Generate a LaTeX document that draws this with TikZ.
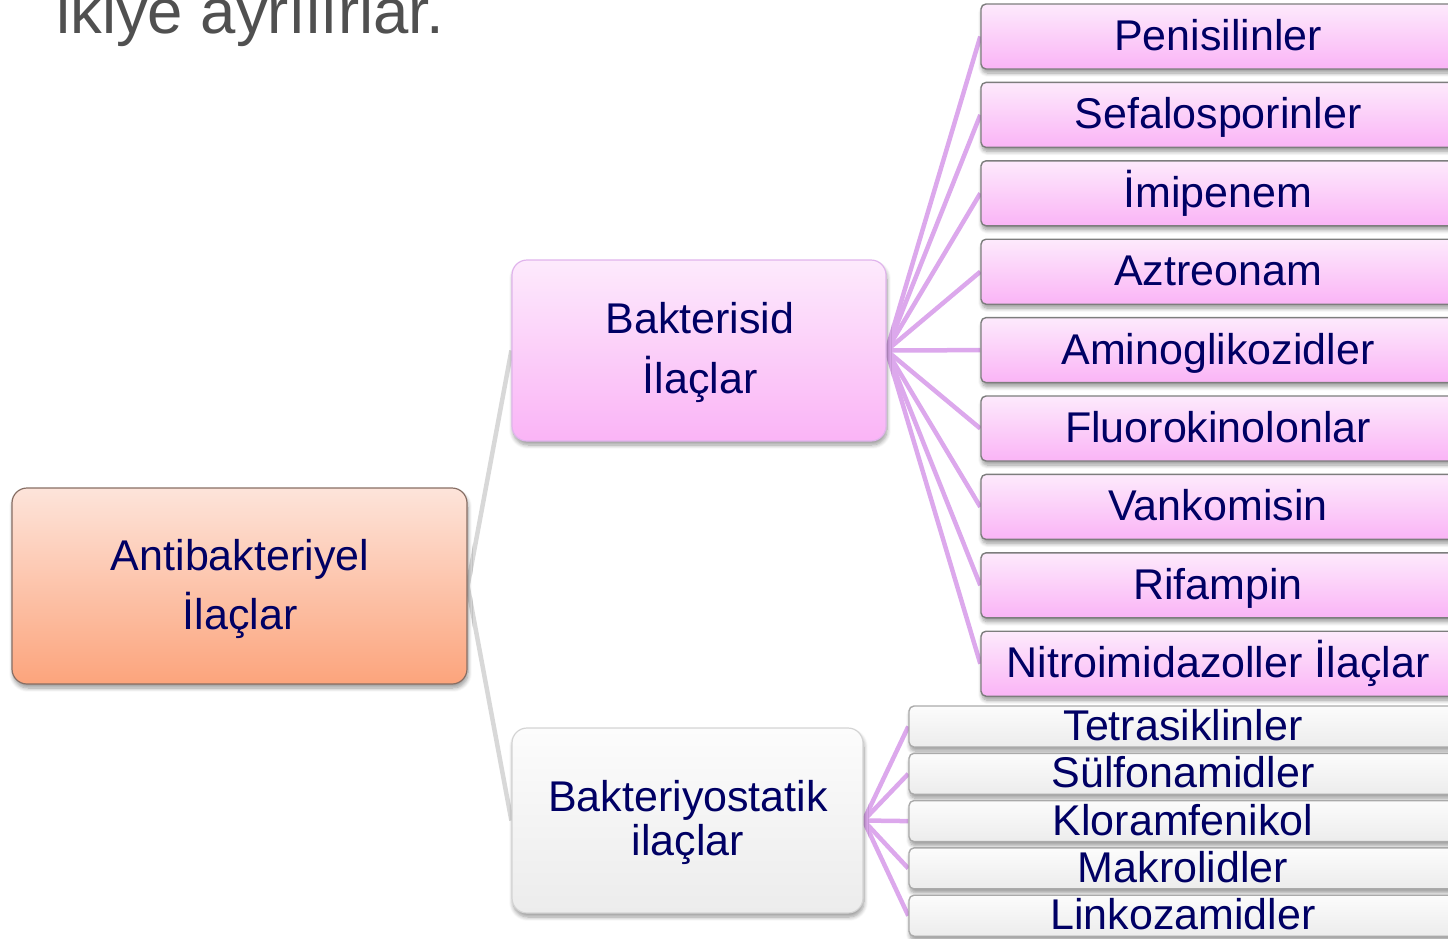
\documentclass[tikz,border=0pt]{standalone}
\usepackage{fontspec}
\setmainfont{Liberation Sans}
\usetikzlibrary{backgrounds,shadows.blur}

\definecolor{ink}{RGB}{0,0,100}
\definecolor{titlegray}{RGB}{80,80,80}
\definecolor{rootTop}{RGB}{253,228,218}
\definecolor{rootBot}{RGB}{252,164,124}
\definecolor{rootEdge}{RGB}{135,110,100}
\definecolor{pinkTop}{RGB}{253,234,252}
\definecolor{pinkBot}{RGB}{250,180,246}
\definecolor{pinkEdge}{RGB}{224,180,236}
\definecolor{leafEdge}{RGB}{125,125,125}
\definecolor{greyTop}{RGB}{252,252,252}
\definecolor{greyBot}{RGB}{236,236,236}
\definecolor{greyEdge}{RGB}{212,212,212}
\definecolor{greyLeafEdge}{RGB}{170,170,170}
\definecolor{twig}{RGB}{220,168,236}
\definecolor{trunk}{RGB}{216,216,216}

\newcommand{\boxfont}{\fontsize{43}{50}\selectfont}
\newcommand{\titlefont}{\fontsize{63.5}{70}\selectfont}

\tikzset{
  softshadow/.style={blur shadow={shadow xshift=1pt, shadow yshift=-4pt,
      shadow blur steps=8, shadow blur radius=4pt, shadow opacity=40}},
  card/.style={draw, line width=1.2pt, rounded corners=15pt, inner sep=0pt, softshadow},
  rootcard/.style={card, draw=rootEdge, top color=rootTop, bottom color=rootBot},
  cidcard/.style={card, draw=pinkEdge, top color=pinkTop, bottom color=pinkBot},
  staticcard/.style={card, draw=greyEdge, top color=greyTop, bottom color=greyBot},
  cardtext/.style={anchor=base, font=\boxfont, text=ink, inner sep=0pt},
  leaf/.style={line width=1.4pt, rounded corners=5pt, inner sep=0pt,
      font=\boxfont, text=ink, text height=28pt, text depth=0pt, softshadow},
  pinkleaf/.style={leaf, draw=leafEdge, top color=pinkTop, bottom color=pinkBot,
      minimum width=474pt, minimum height=65pt},
  greyleaf/.style={leaf, draw=greyLeafEdge, top color=greyTop, bottom color=greyBot,
      minimum width=548pt, minimum height=41pt},
  trunkline/.style={draw=trunk, line width=4.5pt},
  twigline/.style={draw=twig, line width=4.5pt},
}

\begin{document}
\begin{tikzpicture}[x=1pt,y=-1pt]
\useasboundingbox (0,0) rectangle (1448,938);

% heading line left over from the slide text
\node[anchor=base west, font=\titlefont, text=titlegray, inner sep=0pt] (title) at (56,33) {ikiye ayrılırlar.};

% main cards
\node[rootcard, minimum width=455pt, minimum height=196pt] (root) at (239.5,586) {};
\node[cardtext] (rootA) at (240,570) {Antibakteriyel};
\node[cardtext] (rootB) at (240,629) {İlaçlar};

\node[cidcard, minimum width=374pt, minimum height=181pt] (cid) at (699,350.5) {};
\node[cardtext] (cidA) at (700,333) {Bakterisid};
\node[cardtext] (cidB) at (700,393) {İlaçlar};

\node[staticcard, minimum width=351pt, minimum height=185pt] (stat) at (687.5,820.5) {};
\node[cardtext] (statA) at (688,811) {Bakteriyostatik};
\node[cardtext] (statB) at (688,855) {ilaçlar};

% bactericidal drugs
\foreach \name [count=\i from 0] in {Penisilinler, Sefalosporinler, İmipenem, Aztreonam,
    Aminoglikozidler, Fluorokinolonlar, Vankomisin, Rifampin, Nitroimidazoller İlaçlar}
  \node[pinkleaf] (p\i) at (1218,36.5+78.4*\i) {\name};

% bacteriostatic drugs
\foreach \name [count=\i from 0] in {Tetrasiklinler, Sülfonamidler, Kloramfenikol,
    Makrolidler, Linkozamidler}
  \node[greyleaf] (g\i) at (1183,726.5+47.3*\i) {\name};

% connectors behind the cards
\begin{scope}[on background layer]
  \draw[trunkline] (root.east) -- (cid.west);
  \draw[trunkline] (root.east) -- (stat.west);
  \foreach \i in {0,...,8}
    \draw[twigline] (cid.east) -- (p\i.west);
  \foreach \i in {0,...,4}
    \draw[twigline] (stat.east) -- (g\i.west);
\end{scope}
\end{tikzpicture}
\end{document}
